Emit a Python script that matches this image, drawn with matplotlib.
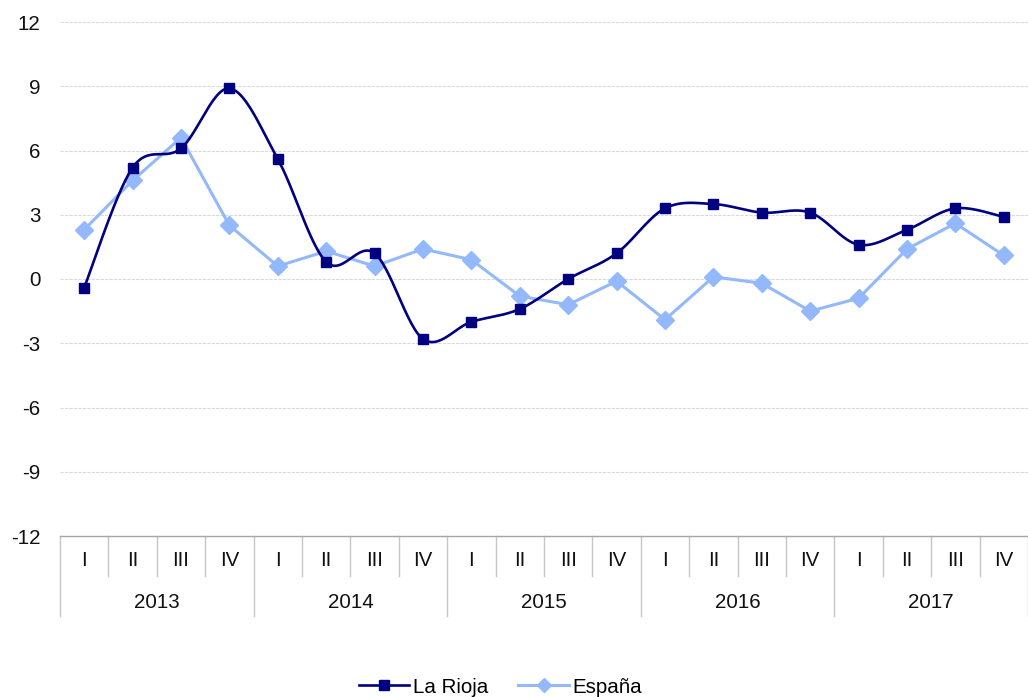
import numpy as np
import matplotlib.pyplot as plt
import matplotlib.transforms as mtransforms
from matplotlib.lines import Line2D

# ---------------- Datos ----------------
years = ["2013", "2014", "2015", "2016", "2017"]
quarters = ["I", "II", "III", "IV"]

la_rioja = [-0.4, 5.2, 6.1, 8.9,
            5.6, 0.8, 1.2, -2.8,
            -2.0, -1.4, 0.0, 1.2,
            3.3, 3.5, 3.1, 3.1,
            1.6, 2.3, 3.3, 2.9]

espana = [2.3, 4.6, 6.6, 2.5,
          0.6, 1.3, 0.6, 1.4,
          0.9, -0.8, -1.2, -0.1,
          -1.9, 0.1, -0.2, -1.5,
          -0.9, 1.4, 2.6, 1.1]

y_ticks = [-12, -9, -6, -3, 0, 3, 6, 9, 12]

NAVY = "#000080"
LIGHT = "#93b8fb"
FONT = "Liberation Sans"
FS = 14.8

plt.rcParams["font.family"] = [FONT, "DejaVu Sans"]


def suavizar(y, n=30):
    # curva tipo Excel "línea suavizada" (Bezier a partir de Catmull-Rom)
    x = np.arange(len(y), dtype=float)
    p = np.column_stack([x, np.array(y, dtype=float)])
    pts = []
    for i in range(len(p) - 1):
        p0 = p[i - 1] if i > 0 else p[i]
        p1 = p[i]
        p2 = p[i + 1]
        p3 = p[i + 2] if i + 2 < len(p) else p[i + 1]
        c1 = p1 + (p2 - p0) / 6
        c2 = p2 - (p3 - p1) / 6
        t = np.linspace(0, 1, n)[:, None]
        seg = ((1 - t) ** 3) * p1 + 3 * ((1 - t) ** 2) * t * c1 + 3 * (1 - t) * t ** 2 * c2 + t ** 3 * p2
        pts.append(seg if i == 0 else seg[1:])
    pts = np.vstack(pts)
    return pts[:, 0], pts[:, 1]


fig = plt.figure(figsize=(10.28, 6.97), dpi=100)
ax = fig.add_axes([60 / 1028, 1 - 536 / 697, 968 / 1028, (536 - 22) / 697])

n = len(la_rioja)
x = np.arange(n)

# España: línea recta
ax.plot(x, espana, color=LIGHT, lw=2.2, marker="D", ms=9, mec=LIGHT, mfc=LIGHT, zorder=3)

# La Rioja: línea suavizada
xs, ys = suavizar(la_rioja)
ax.plot(xs, ys, color=NAVY, lw=1.9, zorder=4)
ax.plot(x, la_rioja, ls="none", marker="s", ms=7.5, color=NAVY, zorder=5)

ax.set_xlim(-0.5, n - 0.5)
ax.set_ylim(-12, 12)
ax.set_yticks(y_ticks)
ax.set_yticklabels([str(v) for v in y_ticks], fontsize=FS, color="#111111")
ax.tick_params(axis="y", length=0, pad=14)
ax.set_xticks([])

for v in y_ticks[1:]:
    ax.axhline(v, color="#dadada", lw=0.8, ls=(0, (3, 1)), zorder=1)

for s in ["top", "right", "left"]:
    ax.spines[s].set_visible(False)
ax.spines["bottom"].set_color("#a6a6a6")
ax.spines["bottom"].set_linewidth(1.0)

# eje de categorías en dos niveles
trans = mtransforms.blended_transform_factory(ax.transData, ax.transAxes)
h_axes = (536 - 22)
q_depth = 40 / h_axes
y_depth = 80 / h_axes

for i in range(n + 1):
    xp = i - 0.5
    depth = y_depth if i % 4 == 0 else q_depth
    ax.add_line(Line2D([xp, xp], [0, -depth], transform=trans, color="#c6c6c6",
                       lw=1.0, clip_on=False))

for i in range(n):
    ax.text(i, -25 / h_axes, quarters[i % 4], transform=trans, ha="center", va="center",
            fontsize=FS, color="#111111")

for k, yr in enumerate(years):
    ax.text(4 * k + 1.5, -66 / h_axes, yr, transform=trans, ha="center", va="center",
            fontsize=FS, color="#111111")

# leyenda
h1 = Line2D([], [], color=NAVY, lw=1.9, marker="s", ms=7)
h2 = Line2D([], [], color=LIGHT, lw=2.2, marker="D", ms=7)
fig.legend([h1, h2], ["La Rioja", "España"], loc="lower center", ncol=2, frameon=False,
           bbox_to_anchor=(0.487, -0.026), fontsize=FS, handlelength=2.45,
           handletextpad=0.2, columnspacing=1.45)

fig.savefig("out.png", dpi=100)
